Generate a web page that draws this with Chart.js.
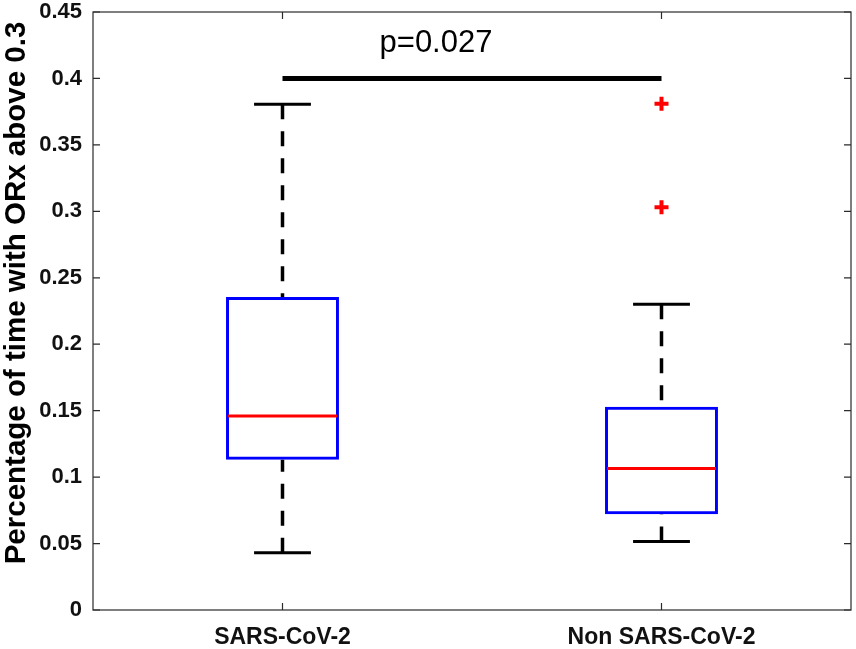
<!DOCTYPE html>
<html>
<head>
<meta charset="utf-8">
<script src="https://cdn.jsdelivr.net/npm/chart.js@4.4.1/dist/chart.umd.min.js"></script>
<style>
  body { margin: 0; background: #fff; }
  #wrap { width: 856px; height: 649px; position: relative; }
</style>
</head>
<body>
<div id="wrap"><canvas id="ChartElem"></canvas></div>
<script>
// groups on the x axis
var groups = ['SARS-CoV-2', 'Non SARS-CoV-2'];

// box plot values
var whiskerLow = [0.043, 0.0515];
var quartile1 = [0.113, 0.072];
var median = [0.146, 0.1065];
var quartile3 = [0.2355, 0.153];
var whiskerHigh = [0.3805, 0.230];
var outliersNon = [0.381, 0.303];

// y axis ticks
var yTickLabels = ['0', '0.05', '0.1', '0.15', '0.2', '0.25', '0.3', '0.35', '0.4', '0.45'];

// significance bar
var pText = 'p=0.027';
var pBarValue = 0.4;
var pTextValue = 0.42;
var yTitle = 'Percentage of time with ORx above 0.3';

var frameColor = '#2b2b2b';

var boxParts = {
    id: 'boxParts',
    afterDatasetsDraw: function (chart) {
        var ctx = chart.ctx;
        var xs = chart.scales.x;
        var ys = chart.scales.y;
        var area = chart.chartArea;
        var step = xs.getPixelForValue(1) - xs.getPixelForValue(0);
        var halfCap = step * 0.075;
        var halfBox = step * 0.149;

        ctx.save();
        for (var i = 0; i < groups.length; i++) {
            var cx = xs.getPixelForValue(i);

            // whiskers
            ctx.strokeStyle = '#000';
            ctx.lineWidth = 3.5;
            ctx.setLineDash([15, 12]);
            ctx.beginPath();
            ctx.moveTo(cx, ys.getPixelForValue(whiskerHigh[i]));
            ctx.lineTo(cx, ys.getPixelForValue(quartile3[i]));
            ctx.moveTo(cx, ys.getPixelForValue(whiskerLow[i]));
            ctx.lineTo(cx, ys.getPixelForValue(quartile1[i]));
            ctx.stroke();
            ctx.setLineDash([]);

            // caps
            ctx.lineWidth = 3;
            ctx.beginPath();
            ctx.moveTo(cx - halfCap, ys.getPixelForValue(whiskerHigh[i]));
            ctx.lineTo(cx + halfCap, ys.getPixelForValue(whiskerHigh[i]));
            ctx.moveTo(cx - halfCap, ys.getPixelForValue(whiskerLow[i]));
            ctx.lineTo(cx + halfCap, ys.getPixelForValue(whiskerLow[i]));
            ctx.stroke();

            // median
            ctx.strokeStyle = '#ff0000';
            ctx.lineWidth = 3;
            ctx.beginPath();
            ctx.moveTo(cx - halfBox + 2, ys.getPixelForValue(median[i]));
            ctx.lineTo(cx + halfBox - 2, ys.getPixelForValue(median[i]));
            ctx.stroke();
        }

        // significance bar and p value
        var x0 = xs.getPixelForValue(0);
        var x1 = xs.getPixelForValue(1);
        ctx.strokeStyle = '#000';
        ctx.lineWidth = 5;
        ctx.beginPath();
        ctx.moveTo(x0, ys.getPixelForValue(pBarValue));
        ctx.lineTo(x1, ys.getPixelForValue(pBarValue));
        ctx.stroke();
        ctx.fillStyle = '#000';
        ctx.font = '31px "Liberation Sans", Arial, sans-serif';
        ctx.textAlign = 'center';
        ctx.textBaseline = 'alphabetic';
        ctx.fillText(pText, x0 + (x1 - x0) * 0.405, ys.getPixelForValue(pTextValue));

        // frame
        ctx.strokeStyle = frameColor;
        ctx.lineWidth = 1.2;
        ctx.strokeRect(area.left, area.top, area.right - area.left, area.bottom - area.top);

        // inward ticks
        ctx.beginPath();
        ys.ticks.forEach(function (t) {
            var py = ys.getPixelForValue(t.value);
            ctx.moveTo(area.left, py);
            ctx.lineTo(area.left + 7, py);
            ctx.moveTo(area.right, py);
            ctx.lineTo(area.right - 7, py);
        });
        for (var j = 0; j < groups.length; j++) {
            var px = xs.getPixelForValue(j);
            ctx.moveTo(px, area.top);
            ctx.lineTo(px, area.top + 7);
            ctx.moveTo(px, area.bottom);
            ctx.lineTo(px, area.bottom - 7);
        }
        ctx.stroke();

        // y axis title
        ctx.fillStyle = '#000';
        ctx.font = 'bold 29.5px "Liberation Sans", Arial, sans-serif';
        ctx.textAlign = 'center';
        ctx.textBaseline = 'middle';
        ctx.translate(17, (area.top + area.bottom) / 2 - 18);
        ctx.rotate(-Math.PI / 2);
        ctx.fillText(yTitle, 0, 0);
        ctx.restore();
    }
};

var chartContext = document.getElementById('ChartElem').getContext('2d');
var chart = new Chart(chartContext, {
    data: {
        labels: groups,
        datasets: [
            {
                type: 'bar',
                data: groups.map(function (g, i) { return [quartile1[i], quartile3[i]]; }),
                backgroundColor: 'rgba(0,0,0,0)',
                borderColor: '#0000ff',
                borderWidth: 3,
                borderSkipped: false,
                barPercentage: 0.298,
                categoryPercentage: 1
            },
            {
                type: 'line',
                data: outliersNon.map(function (v) { return { x: groups[1], y: v }; }),
                showLine: false,
                pointStyle: 'cross',
                pointRadius: 7,
                pointBorderWidth: 4,
                pointBorderColor: '#ff0000',
                pointBackgroundColor: '#ff0000'
            }
        ]
    },
    options: {
        responsive: true,
        maintainAspectRatio: false,
        animation: false,
        layout: { autoPadding: false, padding: { left: 0, right: 5, top: 12, bottom: 0 } },
        plugins: { legend: { display: false }, tooltip: { enabled: false } },
        scales: {
            x: {
                type: 'category',
                offset: true,
                grid: { display: false, drawTicks: false },
                border: { display: false },
                ticks: {
                    padding: 14,
                    color: '#111',
                    font: { family: '"Liberation Sans", Arial, sans-serif', size: 23, weight: 'bold' }
                },
                afterFit: function (scale) {
                    scale.height = 39;
                    scale.paddingLeft = 0;
                    scale.paddingRight = 0;
                }
            },
            y: {
                min: 0,
                max: 0.45,
                grid: { display: false, drawTicks: false },
                border: { display: false },
                ticks: {
                    stepSize: 0.05,
                    padding: 11,
                    color: '#111',
                    font: { family: '"Liberation Sans", Arial, sans-serif', size: 22, weight: 'bold' },
                    callback: function (v, i) { return yTickLabels[i]; }
                },
                afterFit: function (scale) {
                    scale.width = 93;
                    scale.paddingTop = 0;
                    scale.paddingBottom = 0;
                }
            }
        }
    },
    plugins: [boxParts]
});
</script>
</body>
</html>
